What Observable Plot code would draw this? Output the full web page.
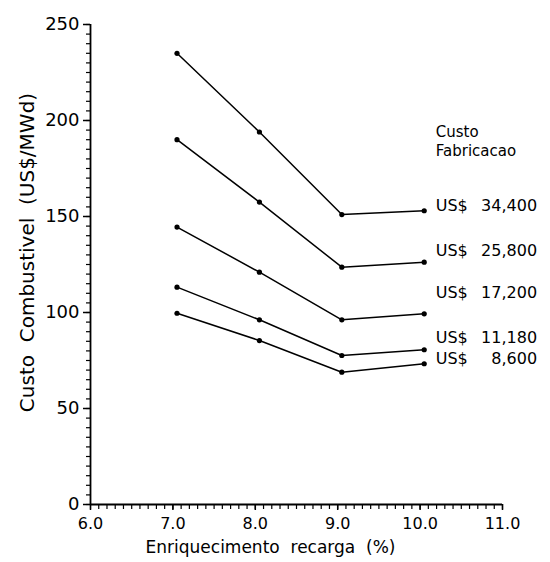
<!DOCTYPE html>
<html><head><meta charset="utf-8">
<script src="https://cdn.jsdelivr.net/npm/d3@7"></script>
<script src="https://cdn.jsdelivr.net/npm/@observablehq/plot@0.6"></script>
<style>body{margin:0;background:#fff}</style>
</head><body><div id="chart"></div>
<script>
const enrichment = [7.05, 8.05, 9.05, 10.05];
const seriesNames = ["34,400", "25,800", "17,200", "11,180", "8,600"];
const cost34400 = [235, 194, 151, 153];
const cost25800 = [190, 157.5, 123.6, 126.2];
const cost17200 = [144.5, 121, 96.2, 99.3];
const cost11180 = [113.2, 96.2, 77.6, 80.6];
const cost8600 = [99.6, 85.4, 68.9, 73.3];
const labelY = [155.7, 132, 110, 87, 76];
const legendTitle = ["Custo", "Fabricacao"];
const legendTitleY = [194, 184];
const legendX = 10.19;
const legendNumX = 11.42;
const xTicks = [6, 7, 8, 9, 10, 11];
const yTicks = [0, 50, 100, 150, 200, 250];
const xMinor = d3.range(60, 111).map(d => d / 10);
const yMinor = d3.range(0, 251, 5);

const allSeries = [cost34400, cost25800, cost17200, cost11180, cost8600];
const rows = [];
allSeries.forEach((vals, i) => vals.forEach((v, j) => rows.push({series: seriesNames[i], x: enrichment[j], y: v})));
const labels = seriesNames.map((s, i) => ({name: s, y: labelY[i]}));
const titles = legendTitle.map((t, i) => ({t, y: legendTitleY[i]}));

const chart = Plot.plot({
  width: 550, height: 562,
  marginLeft: 90, marginRight: 48, marginTop: 24, marginBottom: 58,
  x: {domain: [6, 11]},
  y: {domain: [0, 250]},
  style: {fontFamily: "DejaVu Sans", fontSize: "16px", color: "black", background: "white"},
  marks: [
    Plot.axisX({ticks: xMinor, tickSize: 5, tickFormat: () => "", label: null, strokeWidth: 1.2}),
    Plot.axisX({ticks: xTicks, tickSize: 6, tickPadding: 7, tickFormat: d3.format(".1f"), label: null, fontSize: 16, strokeWidth: 1.5}),
    Plot.axisY({ticks: yMinor, tickSize: 4, tickFormat: () => "", label: null, strokeWidth: 1.2}),
    Plot.axisY({ticks: yTicks, tickSize: 7, tickPadding: 4, label: null, fontSize: 18, strokeWidth: 1.5}),
    Plot.ruleY([0], {strokeWidth: 1.8}),
    Plot.ruleX([6], {strokeWidth: 1.8}),
    Plot.line(rows, {x: "x", y: "y", z: "series", stroke: "black", strokeWidth: 1.5}),
    Plot.dot(rows, {x: "x", y: "y", r: 2.6, fill: "black"}),
    Plot.text(labels, {x: () => legendX, y: "y", text: () => "US$", textAnchor: "start", fontSize: 16}),
    Plot.text(labels, {x: () => legendNumX, y: "y", text: "name", textAnchor: "end", fontSize: 16}),
    Plot.text(titles, {x: () => legendX, y: "y", text: "t", textAnchor: "start", fontSize: 15}),
    Plot.text(["Custo  Combustivel  (US$/MWd)"], {frameAnchor: "left", textAnchor: "middle", lineAnchor: "middle", rotate: -90, dx: -63, dy: -12, fontSize: 20}),
    Plot.text(["Enriquecimento  recarga  (%)"], {frameAnchor: "bottom", textAnchor: "middle", lineAnchor: "middle", dx: -26, dy: 43, fontSize: 17})
  ]
});
document.getElementById("chart").appendChild(chart);
</script>
</body></html>
